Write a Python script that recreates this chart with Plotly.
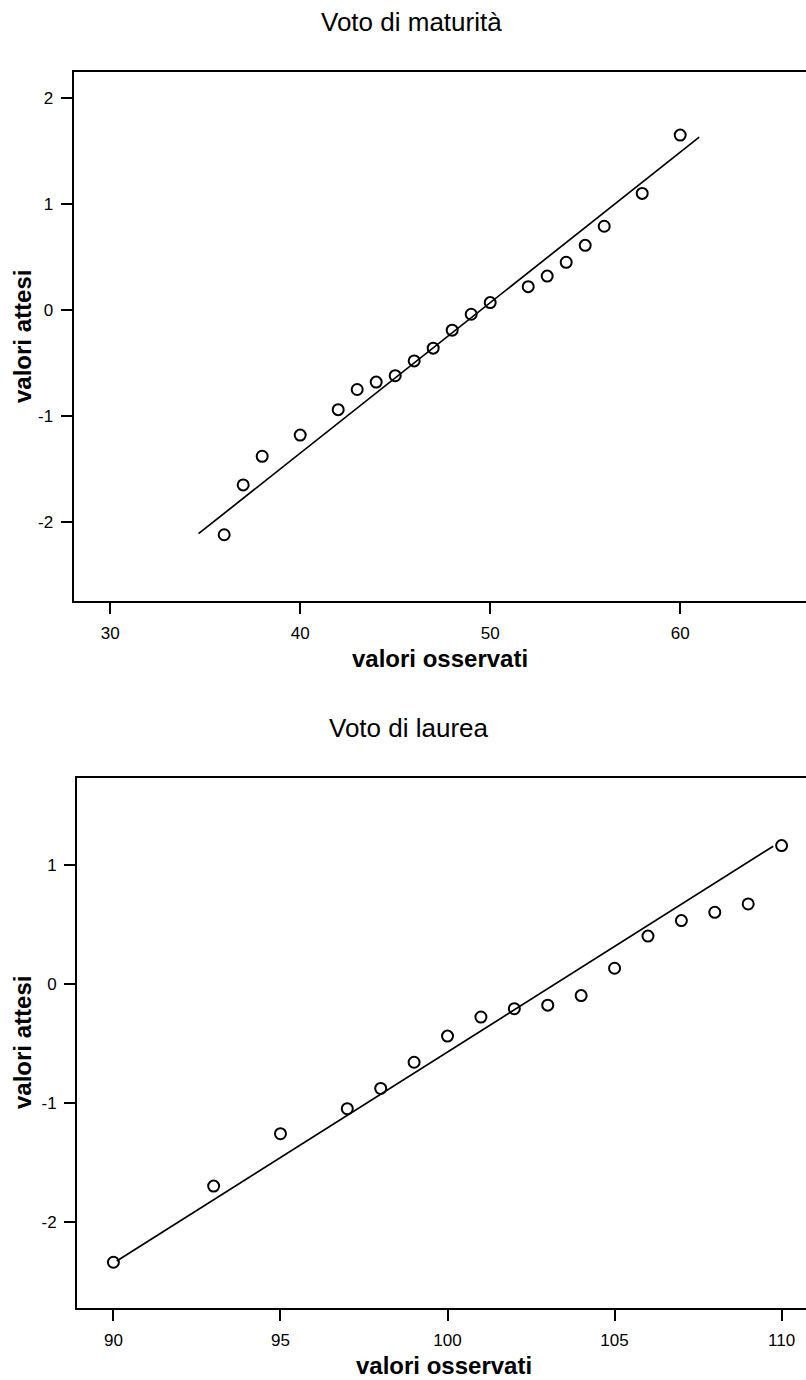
import plotly.graph_objects as go

# ---- data: Voto di maturità ----
mat_obs = [36, 37, 38, 40, 42, 43, 44, 45, 46, 47, 48, 49, 50, 52, 53, 54, 55, 56, 58, 60]
mat_exp = [-2.12, -1.65, -1.38, -1.18, -0.94, -0.75, -0.68, -0.62, -0.48, -0.36,
           -0.19, -0.04, 0.07, 0.22, 0.32, 0.45, 0.61, 0.79, 1.10, 1.65]
mat_line_x = [34.65, 61.0]
mat_line_y = [-2.11, 1.63]
mat_xticks = [30, 40, 50, 60]
mat_yticks = [-2, -1, 0, 1, 2]
mat_yticktext = ["-2", "-1", "0", "1", "2"]

# ---- data: Voto di laurea ----
lau_obs = [90, 93, 95, 97, 98, 99, 100, 101, 102, 103, 104, 105, 106, 107, 108, 109, 110]
lau_exp = [-2.34, -1.70, -1.26, -1.05, -0.88, -0.66, -0.44, -0.28, -0.21, -0.18,
           -0.10, 0.13, 0.40, 0.53, 0.60, 0.67, 1.16]
lau_line_x = [90.1, 109.75]
lau_line_y = [-2.33, 1.155]
lau_xticks = [90, 95, 100, 105, 110]
lau_yticks = [-2, -1, 0, 1]
lau_yticktext = ["-2", "-1", "0", "1"]

W, H = 806, 1380
FONT = "Liberation Sans, Arial, sans-serif"

fig = go.Figure()

marker = dict(symbol="circle-open", size=11, color="black", line=dict(width=2, color="black"))

fig.add_trace(go.Scatter(x=mat_line_x, y=mat_line_y, mode="lines",
                         line=dict(color="black", width=1.7), xaxis="x", yaxis="y",
                         showlegend=False, hoverinfo="skip"))
fig.add_trace(go.Scatter(x=mat_obs, y=mat_exp, mode="markers", marker=marker,
                         xaxis="x", yaxis="y", showlegend=False))
fig.add_trace(go.Scatter(x=lau_line_x, y=lau_line_y, mode="lines",
                         line=dict(color="black", width=1.7), xaxis="x2", yaxis="y2",
                         showlegend=False, hoverinfo="skip"))
fig.add_trace(go.Scatter(x=lau_obs, y=lau_exp, mode="markers", marker=marker,
                         xaxis="x2", yaxis="y2", showlegend=False))

axis_common = dict(showgrid=False, zeroline=False, showline=True, linecolor="black",
                   linewidth=2, ticks="outside", ticklen=11, tickwidth=2, tickcolor="black",
                   tickfont=dict(family=FONT, size=17, color="black"))

def py(px):
    return 1 - px / H

fig.update_layout(
    width=W, height=H,
    margin=dict(l=0, r=0, t=0, b=0),
    paper_bgcolor="white", plot_bgcolor="white",
    xaxis=dict(domain=[73.5 / W, 1], range=[28.07, 66.62], tickvals=mat_xticks,
               mirror=True, anchor="y", ticklabelstandoff=5, **axis_common),
    yaxis=dict(domain=[py(601), py(72)], range=[-2.745, 2.245], tickvals=mat_yticks,
               ticktext=mat_yticktext, anchor="x", ticklabelstandoff=4, **axis_common),
    xaxis2=dict(domain=[77 / W, 1], range=[88.91, 110.73], tickvals=lau_xticks,
                mirror=True, anchor="y2", ticklabelstandoff=5, **axis_common),
    yaxis2=dict(domain=[py(1307.5), py(778)], range=[-2.72, 1.728], tickvals=lau_yticks,
                ticktext=lau_yticktext, anchor="x2", ticklabelstandoff=4, **axis_common),
)

def ann(text, x, y, size, bold=False, angle=0):
    fig.add_annotation(text=("<b>%s</b>" % text) if bold else text,
                       xref="paper", yref="paper", x=x / W, y=py(y),
                       xanchor="center", yanchor="middle", showarrow=False,
                       textangle=angle, font=dict(family=FONT, size=size, color="black"))

ann("Voto di maturità", 411, 22, 26)
ann("Voto di laurea", 409, 728, 26)
ann("valori osservati", 440, 659, 24, bold=True)
ann("valori osservati", 444, 1365, 24, bold=True)
ann("valori attesi", 22, 337, 24, bold=True, angle=-90)
ann("valori attesi", 22, 1043, 24, bold=True, angle=-90)

fig.write_html("out.html")
